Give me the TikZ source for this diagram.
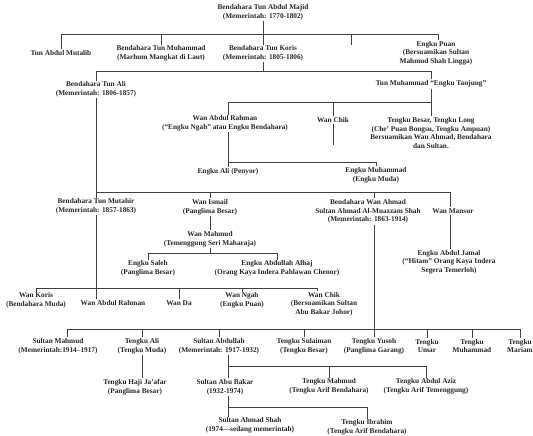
\documentclass[tikz,border=0pt]{standalone}
\usepackage{fontspec}
\setmainfont{Liberation Serif}
\begin{document}
\begin{tikzpicture}[x=1pt, y=-1pt, line width=0.6pt,
        person/.style = {align=center, inner sep=1pt, text=black!85,
            font=\fontsize{7.3}{8.7}\selectfont\bfseries},
        link/.style = {draw=black!75}]
        \useasboundingbox (0,0) rectangle (533,436);
        \coordinate (bar1) at (0,34);
        \coordinate (bar2) at (0,71);
        \coordinate (bar3) at (0,102);
        \coordinate (bar4) at (0,162);
        \coordinate (bar5) at (0,192);
        \coordinate (bar6) at (0,253);
        \coordinate (bar7) at (0,288);
        \coordinate (bar8) at (0,329);
        \coordinate (bar9) at (0,366);
        \coordinate (bar10) at (0,407);

        \node[person](majid) at (263,12) {Bendahara Tun Abdul Majid\\(Memerintah: 1770-1802)};

        \node[person](mutalib) at (61,53) {Tun Abdul Mutalib};
        \node[person](muhammad) at (161,53.5) {Bendahara Tun Muhammad\\(Marhum Mangkat di Laut)};
        \node[person](koris) at (263,53.5) {Bendahara Tun Koris\\(Memerintah: 1805-1806)};
        \coordinate (gap1) at (351,45);
        \node[person](puan) at (436,53) {Engku Puan\\(Bersuamikan Sultan\\Mahmud Shah Lingga)};

        \node[person](ali) at (96,89.5) {Bendahara Tun Ali\\(Memerintah: 1806-1857)};
        \node[person](tanjung) at (431,84) {Tun Muhammad ``Engku Tanjung''};

        \node[person](rahman) at (225,123.5) {Wan Abdul Rahman\\(``Engku Ngah'' atau Engku Bendahara)};
        \node[person](wanchik) at (333,120) {Wan Chik};
        \coordinate (chikend) at (333,145);
        \node[person](tbesar) at (431,133) {Tengku Besar, Tengku Long\\(Che' Puan Bongsu, Tengku Ampuan)\\Bersuamikan Wan Ahmad, Bendahara\\dan Sultan.};
        \node[person](engkuali) at (228,172) {Engku Ali (Penyor)};
        \node[person](enmuhammad) at (376,175) {Engku Muhammad\\(Engku Muda)};

        \node[person](mutahir) at (96,206.5) {Bendahara Tun Mutahir\\(Memerintah: 1857-1863)};
        \node[person](ismail) at (210,207) {Wan Ismail\\(Panglima Besar)};
        \node[person](wanahmad) at (368,211.5) {Bendahara Wan Ahmad\\Sultan Ahmad Al-Muazzam Shah\\(Memerintah: 1863-1914)};
        \node[person](mansur) at (453,211) {Wan Mansur};
        \node[person](mahmud) at (210,239) {Wan Mahmud\\(Temenggung Seri Maharaja)};
        \node[person](jamal) at (449,262) {Engku Abdul Jamal\\(``Hitam'' Orang Kaya Indera\\Segera Temerloh)};
        \node[person](saleh) at (148,268.5) {Engku Saleh\\(Panglima Besar)};
        \node[person](abdullah) at (277,268.5) {Engku Abdullah Alhaj\\(Orang Kaya Indera Pahlawan Chenor)};

        \node[person](koris2) at (36,300.5) {Wan Koris\\(Bendahara Muda)};
        \node[person](rahman2) at (113,303) {Wan Abdul Rahman};
        \node[person](wanda) at (179,303) {Wan Da};
        \node[person](wanngah) at (242,300.5) {Wan Ngah\\(Engku Puan)};
        \node[person](wanchik2) at (324,304) {Wan Chik\\(Bersuamikan Sultan\\Abu Bakar Johor)};

        \node[person](smahmud) at (58,346) {Sultan Mahmud\\(Memerintah:1914--1917)};
        \node[person](tali) at (142,346) {Tengku Ali\\(Tengku Muda)};
        \node[person](sabdullah) at (219,346) {Sultan Abdullah\\(Memerintah: 1917-1932)};
        \node[person](sulaiman) at (304,346) {Tengku Sulaiman\\(Tengku Besar)};
        \node[person](yusoh) at (374,346) {Tengku Yusoh\\(Panglima Garang)};
        \node[person](umar) at (427,346) {Tengku\\Umar};
        \node[person](tmuhammad) at (472,346) {Tengku\\Muhammad};
        \node[person](mariam) at (520,346) {Tengku\\Mariam};

        \node[person](jaafar) at (135,387) {Tengku Haji Ja'afar\\(Panglima Besar)};
        \node[person](abubakar) at (225,387) {Sultan Abu Bakar\\(1932-1974)};
        \node[person](tmahmud) at (329,386.5) {Tengku Mahmud\\(Tengku Arif Bendahara)};
        \node[person](aziz) at (426,386.5) {Tengku Abdul Aziz\\(Tengku Arif Temenggung)};
        \node[person](sahmad) at (250,425.5) {Sultan Ahmad Shah\\(1974---sedang memerintah)};
        \node[person](tibrahim) at (367,427.5) {Tengku Ibrahim\\(Tengku Arif Bendahara)};

        \draw[link] (majid) -- (koris);
        \draw[link] (mutalib.north) -- (mutalib.north |- bar1) -- ([xshift=2pt]puan.north |- bar1) -- ([xshift=2pt]puan.north);
        \draw[link] (muhammad.north) -- (muhammad.north |- bar1);
        \draw[link] (gap1) -- (gap1 |- bar1);

        \draw[link] (koris.south) -- (koris.south |- bar2);
        \draw[link] (ali.north) -- (ali.north |- bar2) -- (tanjung.north |- bar2) -- (tanjung.north);

        \draw[link] (tanjung) -- (tbesar);
        \draw[link] ([xshift=3pt]rahman.north) -- ([xshift=3pt]rahman.north |- bar3) -- (tanjung.south |- bar3);
        \draw[link] (wanchik.north) -- (wanchik.north |- bar3);
        \draw[link] (wanchik.south) -- (chikend);
        \draw[link] ([xshift=3pt]rahman.south) -- (engkuali.north);
        \draw[link] (engkuali.north |- bar4) -- (enmuhammad.north |- bar4) -- (enmuhammad.north);

        \draw[link] (ali) -- (mutahir);
        \draw[link] (ali.south |- bar5) -- ([xshift=-3pt]mansur.north |- bar5) -- ([xshift=-3pt]mansur.north);
        \draw[link] (ismail.north) -- (ismail.north |- bar5);
        \draw[link] ([xshift=6pt]wanahmad.north) -- ([xshift=6pt]wanahmad.north |- bar5);
        \draw[link] ([xshift=-3pt]mansur.south) -- ([xshift=-3pt]mansur.south |- jamal.north);

        \draw[link] (ismail) -- (mahmud);
        \draw[link] (mahmud.south) -- (mahmud.south |- bar6);
        \draw[link] (saleh.north) -- (saleh.north |- bar6) -- (abdullah.north |- bar6) -- (abdullah.north);

        \draw[link] (mutahir.south) -- (mutahir.south |- rahman2.north);
        \draw[link] (koris2.north) -- (koris2.north |- bar7) -- ([xshift=-7pt]wanchik2.north |- bar7) -- ([xshift=-7pt]wanchik2.north);
        \draw[link] (wanda.north) -- (wanda.north |- bar7);
        \draw[link] (wanngah.north) -- (wanngah.north |- bar7);

        \draw[link] ([xshift=6pt]wanahmad.south) -- (yusoh.north);
        \draw[link] ([xshift=9pt]smahmud.north) -- ([xshift=9pt]smahmud.north |- bar8) -- (mariam.north |- bar8) -- (mariam.north);
        \draw[link] (tali.north) -- (tali.north |- bar8);
        \draw[link] (sabdullah.north) -- (sabdullah.north |- bar8);
        \draw[link] (sulaiman.north) -- (sulaiman.north |- bar8);
        \draw[link] (umar.north) -- (umar.north |- bar8);
        \draw[link] (tmuhammad.north) -- (tmuhammad.north |- bar8);

        \draw[link] (tali.south) -- (tali.south |- jaafar.north);
        \draw[link] ([xshift=9pt]sabdullah.south) -- ([xshift=9pt]sabdullah.south |- abubakar.north);
        \draw[link] ([xshift=9pt]sabdullah.south |- bar9) -- (aziz.north |- bar9) -- (aziz.north);
        \draw[link] (tmahmud.north) -- (tmahmud.north |- bar9);

        \draw[link] ([xshift=3pt]abubakar.south) -- ([xshift=3pt]abubakar.south |- sahmad.north);
        \draw[link] ([xshift=3pt]abubakar.south |- bar10) -- (tibrahim.north |- bar10) -- (tibrahim.north);
\end{tikzpicture}
\end{document}
